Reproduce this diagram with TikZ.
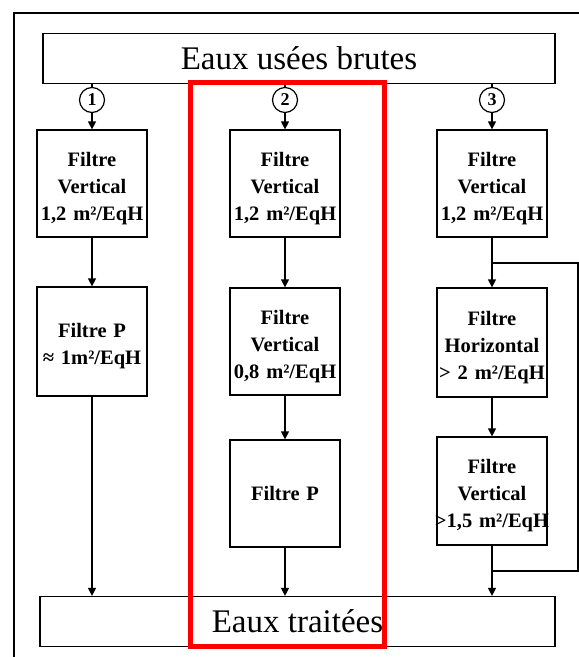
\documentclass[tikz,border=0pt]{standalone}
\usepackage{fontspec}
\setmainfont{Liberation Serif}
\usetikzlibrary{arrows.meta}
\newcommand{\tstrut}{\rule{0pt}{24pt}}
\begin{document}
\begin{tikzpicture}[x=1pt,y=-1pt,
  filterbox/.style={draw,line width=1.2pt,text width=110pt,minimum height=107pt,
    align=center,font=\fontsize{20.5}{27}\selectfont\bfseries,inner sep=0pt},
  bigbox/.style={draw,line width=1.2pt,minimum width=512pt,minimum height=50pt,inner sep=0pt,
    font=\fontsize{33}{36}\selectfont},
  numcirc/.style={draw,circle,line width=1.2pt,minimum size=25pt,inner sep=0pt,
    font=\fontsize{18}{18}\selectfont\bfseries},
  flow/.style={line width=1.2pt,-{Triangle[width=8pt,length=8pt]}},
  link/.style={line width=1.2pt}]
\useasboundingbox (0,0) rectangle (579,657);
% outer frame
\draw[line width=2.2pt] (14,657) -- (14,13) -- (579,13);
% top and bottom boxes
\node[bigbox] (top) at (299,58.5) {Eaux usées brutes};
\node[bigbox,minimum width=515pt] (bot) at (297.5,621.5) {Eaux traitées};
% circles
\node[numcirc] (c1) at (92,100) {1};
\node[numcirc] (c2) at (285,100) {2};
\node[numcirc] (c3) at (492,100) {3};
% column 1
\node[filterbox] (a1) at (92,183.5) {\tstrut Filtre\\Vertical\\1,2 m²/EqH};
\node[filterbox,minimum height=109pt] (a2) at (92,341.5) {\tstrut Filtre P\\≈ 1m²/EqH};
% column 2
\node[filterbox] (b1) at (285,183.5) {\tstrut Filtre\\Vertical\\1,2 m²/EqH};
\node[filterbox] (b2) at (285,341.5) {\tstrut Filtre\\Vertical\\0,8 m²/EqH};
\node[filterbox] (b3) at (285,493.5) {Filtre P};
% column 3
\node[filterbox] (d1) at (492,183.5) {\tstrut Filtre\\Vertical\\1,2 m²/EqH};
\node[filterbox,minimum height=109pt] (d2) at (492,342.5) {\tstrut Filtre\\Horizontal\\> 2 m²/EqH};
\node[filterbox,minimum height=108pt] (d3) at (492,491) {\tstrut Filtre\\Vertical\\\makebox[110pt]{>1,5 m²/EqH}};
% connectors
\draw[link] (top.south -| c1) -- (c1.north);
\draw[link] (top.south -| c2) -- (c2.north);
\draw[link] (top.south -| c3) -- (c3.north);
\draw[flow] (c1) -- (a1);
\draw[flow] (c2) -- (b1);
\draw[flow] (c3) -- (d1);
\draw[flow] (a1) -- (a2);
\draw[flow] (a2) -- (bot.north -| a2);
\draw[flow] (b1) -- (b2);
\draw[flow] (b2) -- (b3);
\draw[flow] (b3) -- (bot.north -| b3);
\draw[flow] (d1) -- (d2);
\draw[flow] (d2) -- (d3);
\draw[flow] (d3) -- (bot.north -| d3);
\coordinate (by1) at (492,263);
\coordinate (by2) at (578,263);
\coordinate (by3) at (578,571);
\coordinate (by4) at (492,571);
\draw[link] (by1) -- (by2) -- (by3) -- (by4);
% red highlight
\draw[red,line width=5pt] (190,82.5) rectangle (384,646);
\end{tikzpicture}
\end{document}
